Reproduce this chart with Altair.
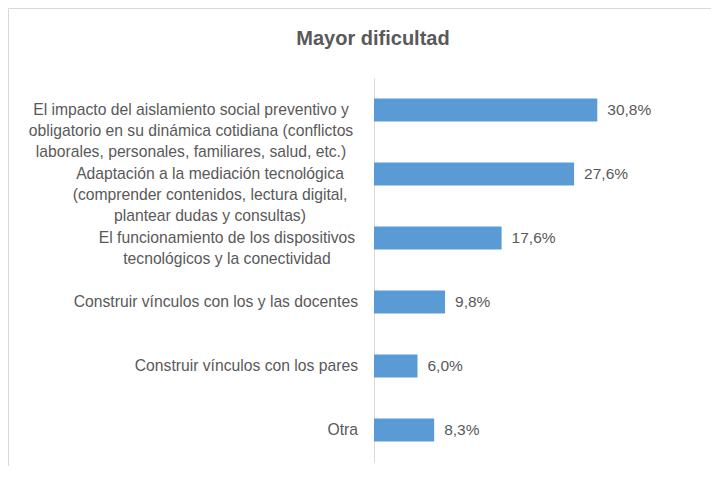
import altair as alt
import pandas as pd

categories = [
    "El impacto del aislamiento social preventivo y|obligatorio en su dinámica cotidiana (conflictos|laborales, personales, familiares, salud, etc.)",
    "Adaptación a la mediación tecnológica|(comprender contenidos, lectura digital,|plantear dudas y consultas)",
    "El funcionamiento de los dispositivos|tecnológicos y la conectividad",
    "Construir vínculos con los y las docentes",
    "Construir vínculos con los pares",
    "Otra",
]
values = [30.8, 27.6, 17.6, 9.8, 6.0, 8.3]
value_labels = ["30,8%", "27,6%", "17,6%", "9,8%", "6,0%", "8,3%"]

df = pd.DataFrame({"cat": categories, "val": values, "lab": value_labels})

FONT = "Liberation Sans"
GREY = "#595959"

# style: horizontal centre of each multi-line label block (px left of the axis)
label_dx = [-183, -164, -147]

y_enc = alt.Y(
    "cat:N",
    sort=categories,
    scale=alt.Scale(paddingInner=0.64, paddingOuter=0.32),
    axis=alt.Axis(
        title=None,
        ticks=False,
        labels=False,
        domainColor="#D9D9D9",
        domainWidth=1,
    ),
)
x_enc = alt.X("val:Q", scale=alt.Scale(domain=[0, 40]), axis=None)

bars = alt.Chart(df).mark_bar(color="#5B9BD5").encode(x=x_enc, y=y_enc)

texts = alt.Chart(df).mark_text(
    align="left", baseline="middle", dx=10, font=FONT, fontSize=15.5, color=GREY
).encode(x=x_enc, y=alt.Y("cat:N", sort=categories), text="lab:N")

cats_js = "[" + ",".join("'" + c + "'" for c in categories) + "]"
dxs_js = "[" + ",".join(str(d) for d in label_dx) + "]"
idx = "indexof({cats}, datum.cat)".format(cats=cats_js)
dx_e = "{i} >= 0 && {i} < {n} ? {dxs}[{i}] : -16".format(i=idx, n=len(label_dx), dxs=dxs_js)
al_e = "{i} < {n} ? 'center' : 'right'".format(i=idx, n=len(label_dx))

cat_labels = alt.Chart(df).mark_text(
    baseline="middle",
    font=FONT,
    fontSize=15.7,
    color=GREY,
    lineBreak="|",
    lineHeight=21,
    align=alt.ExprRef(al_e),
    dx=alt.ExprRef(dx_e),
).encode(x=alt.value(0), y=alt.Y("cat:N", sort=categories), text="cat:N")

frame = alt.Data(values=[{"k": 1}])
left_line = alt.Chart(frame).mark_rule(color="#D9D9D9", strokeWidth=1).encode(
    x=alt.value(-365.5), y=alt.value(-69.5), y2=alt.value(400)
)
top_line = alt.Chart(frame).mark_rule(color="#D9D9D9", strokeWidth=1).encode(
    x=alt.value(-365.5), x2=alt.value(340), y=alt.value(-69.5)
)

chart = (
    alt.layer(left_line, top_line, bars, texts, cat_labels)
    .properties(
        width=290,
        height=384,
        padding={"left": 366, "top": 70, "right": 47, "bottom": 4},
        autosize=alt.AutoSizeParams(type="none"),
        title=alt.TitleParams(
            "Mayor dificultad",
            font=FONT,
            fontSize=20,
            fontWeight="bold",
            color=GREY,
            anchor="middle",
            baseline="bottom",
            dx=-146,
            dy=61,
            offset=0,
        ),
    )
    .configure_view(stroke=None)
)

chart.save("out.html", embed_options={"renderer": "svg", "actions": False})
